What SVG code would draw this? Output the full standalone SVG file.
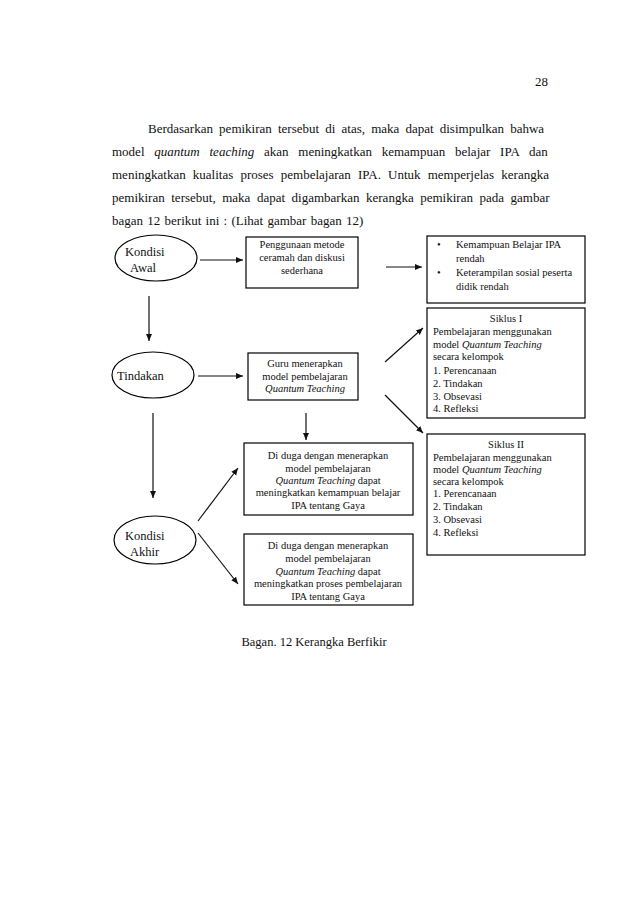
<svg xmlns="http://www.w3.org/2000/svg" width="638" height="903" viewBox="0 0 638 903">
<style>
.p{font-family:"Liberation Serif","Times New Roman",serif;font-size:13px;fill:#111}
.t{font-family:"Liberation Serif","Times New Roman",serif;font-size:10.5px;fill:#111}
.e{font-family:"Liberation Serif","Times New Roman",serif;font-size:12.5px;fill:#111}
.b{fill:#fff;stroke:#000;stroke-width:1.2}
.c{stroke:#111;stroke-width:1.2;fill:none;marker-end:url(#ah)}
.m{text-anchor:middle}
</style>
<defs>
<marker id="ah" markerWidth="8" markerHeight="8" refX="7" refY="4" orient="auto" markerUnits="userSpaceOnUse">
<path d="M0,1 L7,4 L0,7 z" fill="#111"/>
</marker>
</defs>
<rect width="638" height="903" fill="#fff"/>
<text class="p" x="548" y="86" text-anchor="end">28</text>
<g id="paragraph">
<text class="p" x="148" y="133" word-spacing="2.9">Berdasarkan pemikiran tersebut di atas, maka dapat disimpulkan bahwa</text>
<text class="p" x="112" y="156" word-spacing="6.5">model <tspan font-style="italic">quantum teaching</tspan> akan meningkatkan kemampuan belajar IPA dan</text>
<text class="p" x="112" y="179" word-spacing="3.9">meningkatkan kualitas proses pembelajaran IPA. Untuk memperjelas kerangka</text>
<text class="p" x="112" y="202" word-spacing="3.3">pemikiran tersebut, maka dapat digambarkan kerangka pemikiran pada gambar</text>
<text class="p" x="112" y="225" word-spacing="1">bagan 12 berikut ini : (Lihat gambar bagan 12)</text>
</g>
<g id="connectors">
<line class="c" x1="200" y1="260" x2="243" y2="260"/>
<line class="c" x1="386" y1="267" x2="422" y2="267"/>
<line class="c" x1="149" y1="296" x2="149" y2="341"/>
<line class="c" x1="198" y1="376" x2="243" y2="376"/>
<line class="c" x1="385" y1="362" x2="423" y2="328"/>
<line class="c" x1="385" y1="395" x2="423" y2="433"/>
<line class="c" x1="153" y1="413" x2="153" y2="498"/>
<line class="c" x1="306" y1="413" x2="306" y2="440"/>
<line class="c" x1="198" y1="521" x2="238" y2="468"/>
<line class="c" x1="198" y1="533" x2="238" y2="584"/>
</g>
<g id="kondisi-awal">
<ellipse class="b" cx="156" cy="258" rx="41" ry="23"/>
<text class="e" x="125" y="256">Kondisi</text>
<text class="e" x="130" y="272">Awal</text>
</g>
<g id="penggunaan">
<rect class="b" x="246" y="237" width="112" height="51"/>
<text class="t m" x="302" y="248">Penggunaan metode</text>
<text class="t m" x="302" y="261">ceramah dan diskusi</text>
<text class="t m" x="302" y="274">sederhana</text>
</g>
<g id="kondisi-list">
<rect class="b" x="427" y="236" width="158" height="67"/>
<text class="t" x="437" y="248">•</text>
<text class="t" x="456" y="248">Kemampuan Belajar IPA</text>
<text class="t" x="456" y="262">rendah</text>
<text class="t" x="437" y="276">•</text>
<text class="t" x="456" y="276">Keterampilan sosial peserta</text>
<text class="t" x="456" y="290">didik rendah</text>
</g>
<g id="tindakan">
<ellipse class="b" cx="153" cy="375" rx="41" ry="23"/>
<text class="e" x="117" y="380">Tindakan</text>
</g>
<g id="guru">
<rect class="b" x="248" y="353" width="110" height="47"/>
<text class="t m" x="305" y="367">Guru menerapkan</text>
<text class="t m" x="305" y="380">model pembelajaran</text>
<text class="t m" x="305" y="392" font-style="italic">Quantum Teaching</text>
</g>
<g id="siklus-1">
<rect class="b" x="427" y="308" width="158" height="110"/>
<text class="t m" x="506" y="322">Siklus I</text>
<text class="t" x="433" y="335">Pembelajaran menggunakan</text>
<text class="t" x="433" y="348">model <tspan font-style="italic">Quantum Teaching</tspan></text>
<text class="t" x="433" y="360">secara kelompok</text>
<text class="t" x="433" y="374">1. Perencanaan</text>
<text class="t" x="433" y="387">2. Tindakan</text>
<text class="t" x="433" y="400">3. Obsevasi</text>
<text class="t" x="433" y="412">4. Refleksi</text>
</g>
<g id="siklus-2">
<rect class="b" x="427" y="434" width="158" height="121"/>
<text class="t m" x="506" y="448">Siklus II</text>
<text class="t" x="433" y="461">Pembelajaran menggunakan</text>
<text class="t" x="433" y="473">model <tspan font-style="italic">Quantum Teaching</tspan></text>
<text class="t" x="433" y="485">secara kelompok</text>
<text class="t" x="433" y="497">1. Perencanaan</text>
<text class="t" x="433" y="510">2. Tindakan</text>
<text class="t" x="433" y="523">3. Obsevasi</text>
<text class="t" x="433" y="536">4. Refleksi</text>
</g>
<g id="kondisi-akhir">
<ellipse class="b" cx="155" cy="540" rx="41" ry="24"/>
<text class="e" x="125" y="540">Kondisi</text>
<text class="e" x="130" y="556">Akhir</text>
</g>
<g id="hipotesis-1">
<rect class="b" x="244" y="443" width="169" height="72"/>
<text class="t m" x="328" y="459">Di duga dengan menerapkan</text>
<text class="t m" x="328" y="472">model pembelajaran</text>
<text class="t m" x="328" y="484"><tspan font-style="italic">Quantum Teaching</tspan> dapat</text>
<text class="t m" x="328" y="496">meningkatkan kemampuan belajar</text>
<text class="t m" x="328" y="509">IPA tentang Gaya</text>
</g>
<g id="hipotesis-2">
<rect class="b" x="244" y="534" width="169" height="71"/>
<text class="t m" x="328" y="549">Di duga dengan menerapkan</text>
<text class="t m" x="328" y="562">model pembelajaran</text>
<text class="t m" x="328" y="575"><tspan font-style="italic">Quantum Teaching</tspan> dapat</text>
<text class="t m" x="328" y="587">meningkatkan proses pembelajaran</text>
<text class="t m" x="328" y="600">IPA tentang Gaya</text>
</g>
<text class="e" x="314" y="646" text-anchor="middle" font-size="10.5">Bagan. 12 Kerangka Berfikir</text>
</svg>
